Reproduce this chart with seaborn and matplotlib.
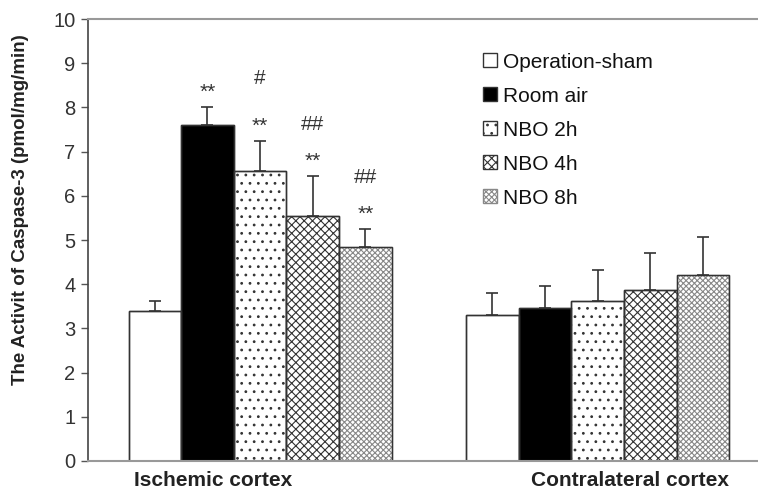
import numpy as np
import pandas as pd
import matplotlib
matplotlib.use('Agg')
import matplotlib.pyplot as plt
import seaborn as sns

# values
regions = ['Ischemic cortex', 'Contralateral cortex']
groups = ['Operation-sham', 'Room air', 'NBO 2h', 'NBO 4h', 'NBO 8h']
ischemic_mean = [3.4, 7.6, 6.55, 5.55, 4.85]
ischemic_sd = [0.22, 0.42, 0.7, 0.9, 0.4]
contra_mean = [3.3, 3.47, 3.63, 3.88, 4.2]
contra_sd = [0.5, 0.5, 0.68, 0.83, 0.87]
stars = ['', '**', '**', '**', '**']
hashes = ['', '', '#', '##', '##']

df = pd.DataFrame({
    'region': np.repeat(regions, len(groups)),
    'group': groups * 2,
    'value': ischemic_mean + contra_mean,
    'sd': ischemic_sd + contra_sd,
})

sns.set_style('white')
plt.rcParams['font.family'] = ['Liberation Sans', 'DejaVu Sans']
plt.rcParams['hatch.linewidth'] = 0.8

fig = plt.figure(figsize=(7.58, 4.92), dpi=100)
ax = fig.add_axes([88 / 758, 31 / 492, 670 / 758, 442 / 492])

fills = ['white', 'black', 'white', 'white', 'white']
hatch_list = [None, None, '..', 'xxxx', 'xxxxxx']
hatch_col = ['#333333', '#333333', '#333333', '#333333', '#888888']

sns.barplot(data=df, x='region', y='value', hue='group', order=regions,
            hue_order=groups, palette=fills, errorbar=None, width=0.78,
            edgecolor='#333333', linewidth=1.0, saturation=1, ax=ax)

bar_groups = list(ax.containers)  # one container per hue level

# hatches per hue group
for i, cont in enumerate(bar_groups):
    for bar in cont:
        if hatch_list[i]:
            bar.set_hatch(hatch_list[i])
            bar.set_edgecolor(hatch_col[i])
        # dark outline on top of the hatch colour
        ax.add_patch(plt.Rectangle(bar.get_xy(), bar.get_width(), bar.get_height(),
                                   fill=False, edgecolor='#333333', linewidth=1.0,
                                   zorder=bar.get_zorder() + 0.1))

# upper-only error bars and significance marks (ischemic side only)
for i, cont in enumerate(bar_groups):
    xs = [b.get_x() + b.get_width() / 2 for b in cont]
    ys = [ischemic_mean[i], contra_mean[i]]
    es = [ischemic_sd[i], contra_sd[i]]
    ax.errorbar(xs, ys, yerr=[[0, 0], es], fmt='none', ecolor='#333333',
                elinewidth=1.2, capsize=4, capthick=1.2, zorder=5)
    top = ys[0] + es[0]
    if stars[i]:
        ax.text(xs[0], top + 0.2, stars[i], ha='center', va='baseline',
                fontsize=15, color='#333333')
    if hashes[i]:
        off = 1.28 if hashes[i] == '#' else 1.05
        ax.text(xs[0], top + off, hashes[i], ha='center', va='baseline',
                fontsize=15, color='#333333')

ax.set_ylim(0, 10)
ax.set_xlim(-0.51, 1.475)
ax.set_yticks(range(0, 11))
ax.tick_params(axis='y', left=True, length=5, width=1, color='#555555',
               labelsize=14.5, labelcolor='#333333', pad=4)
ax.set_xticks([])
ax.set_xlabel('')
ax.set_ylabel('The Activit of Caspase-3 (pmol/mg/min)', fontsize=13.5,
              fontweight='bold', color='#222222')
ax.yaxis.set_label_coords(-0.088, 0.568)

# category labels sit off-centre in the reference
ax.text(-0.14, -0.43, regions[0], ha='center', va='center', fontsize=15,
        fontweight='bold', color='#222222')
ax.text(1.095, -0.43, regions[1], ha='center', va='center', fontsize=15,
        fontweight='bold', color='#222222')

ax.spines['left'].set_color('#444444')
ax.spines['left'].set_linewidth(1.2)
for s in ['top', 'bottom']:
    ax.spines[s].set_color('#999999')
    ax.spines[s].set_linewidth(1.5)
ax.spines['right'].set_visible(False)

leg = ax.legend(loc='upper left', bbox_to_anchor=(0.59, 0.924), frameon=False,
                fontsize=15, handlelength=0.65, handleheight=0.65,
                handletextpad=0.3, labelspacing=0.72, borderaxespad=0,
                borderpad=0)
for i, h in enumerate(leg.legend_handles):
    h.set_edgecolor('#333333')
    h.set_linewidth(1.0)
    if hatch_list[i]:
        h.set_hatch(hatch_list[i])
        h.set_edgecolor(hatch_col[i] if i == 4 else '#333333')
for t in leg.get_texts():
    t.set_color('#111111')

plt.savefig('out.png', dpi=100)
